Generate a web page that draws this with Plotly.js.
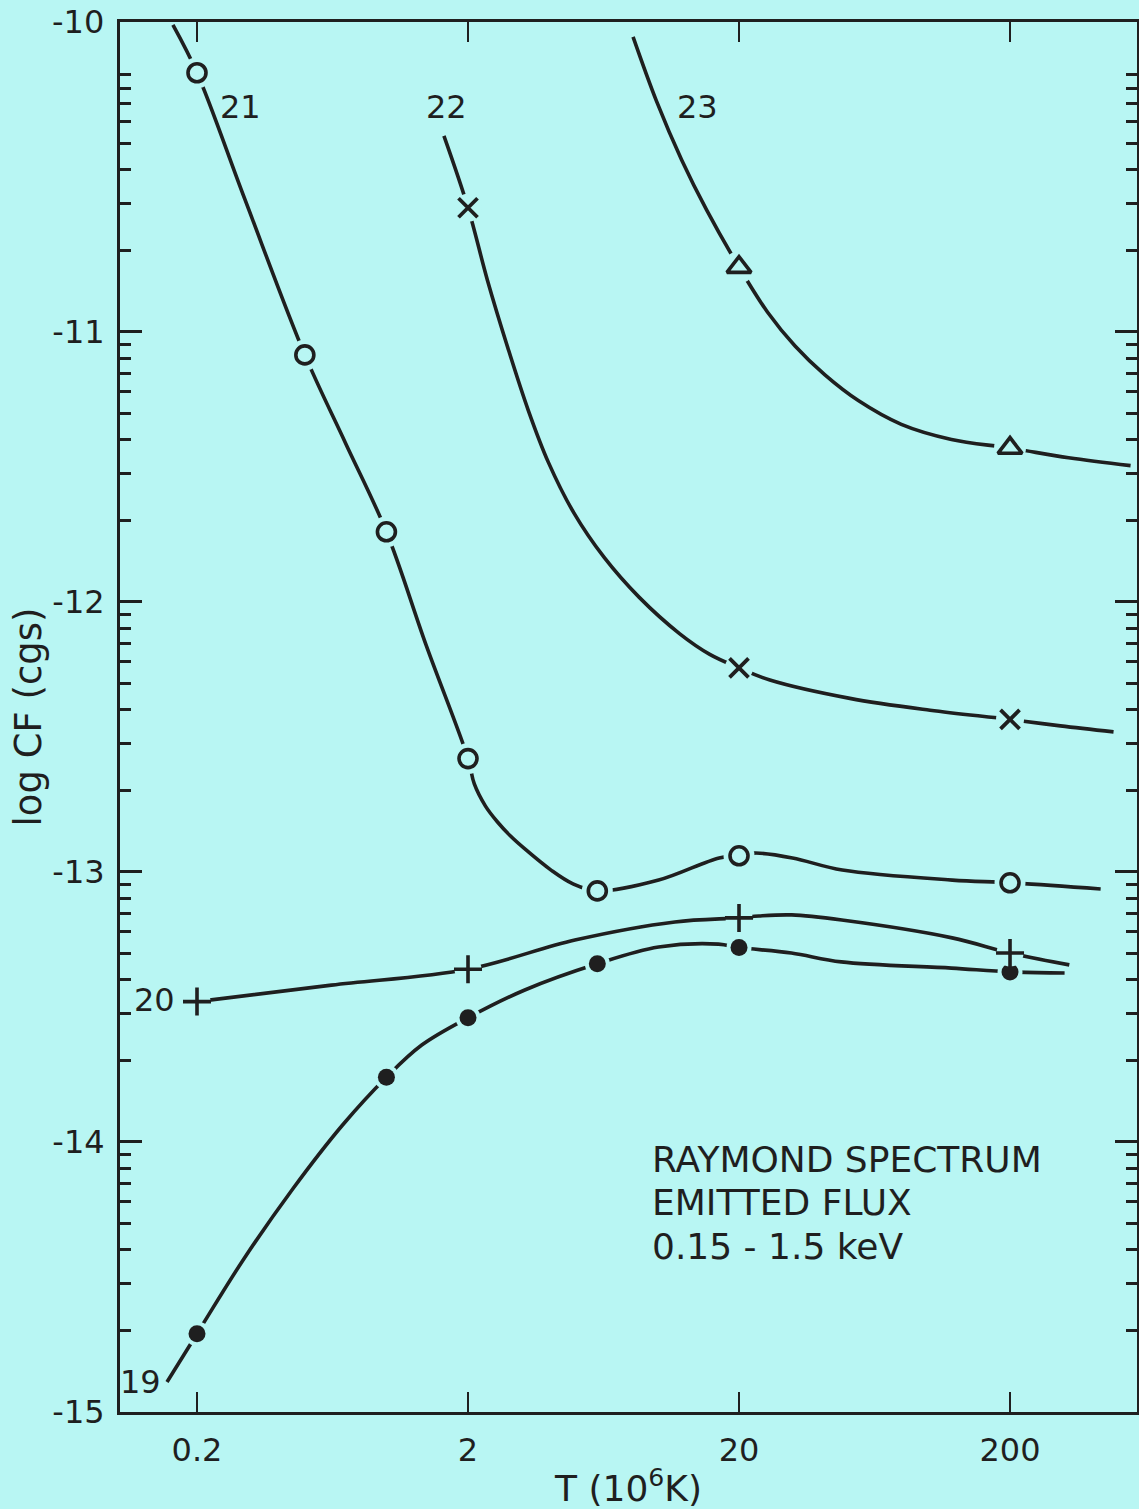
<!DOCTYPE html>
<html>
<head>
<meta charset="utf-8">
<script src="https://cdn.plot.ly/plotly-3.0.1.min.js"></script>
<style>
  html, body { margin: 0; padding: 0; background: #b8f6f3; }
  #chart { width: 1139px; height: 1509px; }
</style>
</head>
<body>
<div id="chart"></div>
<script>
// Emitted flux (0.15 - 1.5 keV) of a Raymond spectrum versus plasma temperature,
// one curve per absorbing column (labels 19 .. 23). T in units of 10^6 K, flux as log CF (cgs).

// ---- curve 19 (filled circles) ----
const t19Line = [0.155, 0.2, 0.296, 0.451, 0.689, 1, 1.35, 2, 3.24, 6, 10.1, 16.8, 20, 31.2, 47.7, 121.6, 200, 318];
const cf19Line = [-14.889, -14.71, -14.437, -14.174, -13.937, -13.76, -13.641, -13.54, -13.437, -13.34, -13.278, -13.267, -13.28, -13.30, -13.333, -13.356, -13.37, -13.374];
const t19Mark = [0.2, 1, 2, 6, 20, 200];
const cf19Mark = [-14.71, -13.76, -13.54, -13.34, -13.28, -13.37];

// ---- curve 20 (plus signs) ----
const t20Line = [0.2, 0.627, 2, 4.96, 11.6, 20, 23.7, 31.3, 47.9, 122.3, 200, 331];
const cf20Line = [-13.48, -13.419, -13.36, -13.252, -13.185, -13.17, -13.163, -13.159, -13.178, -13.244, -13.30, -13.344];
const t20Mark = [0.2, 2, 20, 200];
const cf20Mark = [-13.48, -13.36, -13.17, -13.30];

// ---- curve 21 (open circles) ----
const t21Line = [0.163, 0.2, 0.301, 0.5, 0.706, 1, 1.40, 2, 2.11, 2.32, 2.57, 2.87, 3.21, 4.05, 4.88, 6, 10.1, 16.9, 20, 22.9, 31.5, 48.1, 122.5, 200, 432];
const cf21Line = [-9.863, -10.04, -10.511, -11.085, -11.411, -11.74, -12.159, -12.58, -12.674, -12.756, -12.815, -12.867, -12.911, -12.993, -13.044, -13.07, -13.03, -12.948, -12.94, -12.93, -12.948, -12.993, -13.03, -13.04, -13.063];
const t21Mark = [0.2, 0.5, 1, 2, 6, 20, 200];
const cf21Mark = [-10.04, -11.085, -11.74, -12.58, -13.07, -12.94, -13.04];

// ---- curve 22 (crosses) ----
const t22Line = [1.63, 2, 2.36, 2.81, 3.34, 3.96, 4.91, 6.36, 8.57, 12.06, 15.6, 20, 26.0, 51.3, 101.4, 200, 307, 482];
const cf22Line = [-10.274, -10.54, -10.809, -11.061, -11.291, -11.483, -11.669, -11.835, -11.983, -12.117, -12.194, -12.244, -12.289, -12.357, -12.401, -12.435, -12.459, -12.481];
const t22Mark = [2, 20, 200];
const cf22Mark = [-10.54, -12.244, -12.435];

// ---- curve 23 (open triangles) ----
const t23Line = [8.13, 9.93, 12.3, 15.2, 20, 25.5, 32.2, 41.5, 55.1, 79.4, 121.6, 200, 329, 557];
const cf23Line = [-9.907, -10.146, -10.364, -10.549, -10.76, -10.927, -11.052, -11.159, -11.254, -11.342, -11.398, -11.43, -11.466, -11.495];
const t23Mark = [20, 200];
const cf23Mark = [-10.76, -11.43];

// ---- axis ticks ----
const tTickVals = [0.2, 2, 20, 200];
const tTickText = ['0.2', '2', '20', '200'];
const cfTickVals = [-15, -14, -13, -12, -11];
const cfTickText = ['-15', '-14', '-13', '-12', '-11'];
const cfTopTick = [-10];

const INK = '#1f1f1f';
const BG = '#b8f6f3';
const FONT = 'DejaVu Sans, Liberation Sans, Arial, sans-serif';
const CF_RANGE = [-15, -9.852];

// minor ticks of the log CF axis at log10(k * 10^n), k = 2..9
const cfMinor = [];
for (let n = -15; n < -10; n++) {
  for (let k = 2; k <= 9; k++) cfMinor.push(n + Math.log10(k));
}

function curve(lineT, lineCf, markT, markCf, marker, gap) {
  return [
    { x: lineT, y: lineCf, type: 'scatter', mode: 'lines',
      line: { color: INK, width: 3.6, shape: 'spline', smoothing: 1 },
      hoverinfo: 'skip', showlegend: false },
    // background disc so the curve stops short of each symbol
    { x: markT, y: markCf, type: 'scatter', mode: 'markers',
      marker: { symbol: 'circle', size: gap, color: BG, line: { width: 0 } },
      hoverinfo: 'skip', showlegend: false },
    { x: markT, y: markCf, type: 'scatter', mode: 'markers',
      marker: marker, showlegend: false }
  ];
}

const data = [].concat(
  curve(t19Line, cf19Line, t19Mark, cf19Mark,
        { symbol: 'circle', size: 17, color: INK, line: { width: 0 } }, 25),
  curve(t20Line, cf20Line, t20Mark, cf20Mark,
        { symbol: 'cross-thin', size: 20, color: INK, line: { color: INK, width: 3.6 } }, 27),
  curve(t21Line, cf21Line, t21Mark, cf21Mark,
        { symbol: 'circle', size: 18, color: BG, line: { color: INK, width: 3.6 } }, 31),
  curve(t22Line, cf22Line, t22Mark, cf22Mark,
        { symbol: 'x-thin', size: 19, color: INK, line: { color: INK, width: 3.8 } }, 28),
  curve(t23Line, cf23Line, t23Mark, cf23Mark,
        { symbol: 'triangle-up', size: 21, color: BG, line: { color: INK, width: 3.6 } }, 32)
);

function label(text, x, y, size, anchor) {
  return { text: text, xref: 'paper', yref: 'paper', x: x, y: y,
           xanchor: anchor || 'center', yanchor: 'middle', showarrow: false,
           font: { family: FONT, size: size, color: INK } };
}

const layout = {
  width: 1139, height: 1509,
  margin: { l: 120, r: 2, t: 22, b: 97 },
  paper_bgcolor: BG, plot_bgcolor: BG,
  showlegend: false,
  font: { family: FONT, color: INK, size: 32 },
  xaxis: {
    type: 'log', range: [-0.9831, 2.7696],
    tickmode: 'array', tickvals: tTickVals, ticktext: tTickText,
    ticks: 'inside', ticklen: 20, tickwidth: 2.5, tickcolor: INK,
    showline: true, linewidth: 3, linecolor: INK, mirror: 'ticks',
    showgrid: false, zeroline: false,
    ticklabelstandoff: 8,
    tickfont: { family: FONT, size: 32, color: INK },
    title: { text: 'T (10<sup>6</sup>K)', standoff: 12,
             font: { family: FONT, size: 36, color: INK } }
  },
  yaxis: {
    range: CF_RANGE,
    tickmode: 'array', tickvals: cfTickVals, ticktext: cfTickText,
    ticks: 'inside', ticklen: 22, tickwidth: 3, tickcolor: INK,
    minor: { tickmode: 'array', tickvals: cfMinor, ticks: 'inside',
             ticklen: 11, tickwidth: 3, tickcolor: INK, showgrid: false },
    showline: true, linewidth: 3, linecolor: INK, mirror: 'ticks',
    showgrid: false, zeroline: false,
    ticklabelstandoff: 6,
    tickfont: { family: FONT, size: 32, color: INK },
    title: { text: 'log CF (cgs)', standoff: 0,
             font: { family: FONT, size: 37, color: INK } }
  },
  // the -10 major tick; its label sits at the top corner of the frame
  yaxis2: {
    overlaying: 'y', anchor: 'x', side: 'left',
    range: CF_RANGE,
    tickmode: 'array', tickvals: cfTopTick,
    ticks: 'inside', ticklen: 22, tickwidth: 3, tickcolor: INK,
    showticklabels: false, showline: false, mirror: 'ticks',
    showgrid: false, zeroline: false
  },
  annotations: [
    Object.assign(label('-10', 0, 1, 32, 'right'), { xshift: -14 }),
    label('21', 0.118, 0.9388, 32),
    label('22', 0.3215, 0.9388, 32),
    label('23', 0.5683, 0.9388, 32),
    label('20', 0.0344, 0.2964, 32),
    label('19', 0.0206, 0.0216, 32),
    label('RAYMOND SPECTRUM', 0.5211, 0.1813, 36, 'left'),
    label('EMITTED FLUX', 0.5211, 0.1504, 36, 'left'),
    label('0.15 - 1.5 keV', 0.5211, 0.1194, 36, 'left')
  ]
};

Plotly.newPlot('chart', data, layout, { displayModeBar: false, staticPlot: true });
</script>
</body>
</html>
